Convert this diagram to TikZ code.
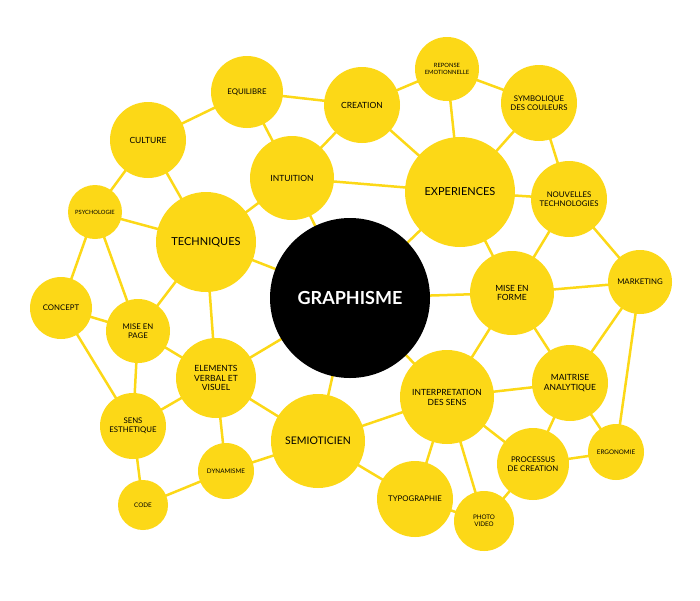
\documentclass[tikz,border=0pt]{standalone}
\usepackage{fontspec}
\setmainfont{Lato}
\usetikzlibrary{backgrounds}
\definecolor{yel}{HTML}{FCD817}
\begin{document}
\begin{tikzpicture}[x=1pt,y=-1pt,
  b/.style={circle,fill=yel,minimum size=#1*2pt,inner sep=0pt,align=center,font=\fontsize{7.8}{8.8}\selectfont},
  link/.style={yel,line width=2.5pt}]
\useasboundingbox (0,0) rectangle (700,600);
\node[b=80,fill=black,text=white,font=\bfseries\fontsize{18}{19}\selectfont] (g) at (350,298) {GRAPHISME};
\node[b=50,font=\fontsize{11}{12}\selectfont] (tec) at (206,242) {TECHNIQUES};
\node[b=42,font=\fontsize{8.5}{9.5}\selectfont] (int) at (292,178) {INTUITION};
\node[b=36] (equ) at (247,92) {EQUILIBRE};
\node[b=38,font=\fontsize{8.5}{9.5}\selectfont] (cre) at (362,105) {CREATION};
\node[b=32,font=\fontsize{5.8}{6.3}\selectfont] (rep) at (447,69) {REPONSE\\EMOTIONNELLE};
\node[b=38] (sym) at (539,103) {SYMBOLIQUE\\DES COULEURS};
\node[b=55,font=\fontsize{11}{12}\selectfont] (exp) at (460,192) {EXPERIENCES};
\node[b=38] (nou) at (569,199) {NOUVELLES\\TECHNOLOGIES};
\node[b=32] (mar) at (640,282) {MARKETING};
\node[b=42,font=\fontsize{8.5}{9.5}\selectfont] (mef) at (512,293) {MISE EN\\FORME};
\node[b=38,font=\fontsize{8.5}{9.5}\selectfont] (mai) at (570,383) {MAITRISE\\ANALYTIQUE};
\node[b=28,font=\fontsize{6.3}{7}\selectfont] (erg) at (616,452) {ERGONOMIE};
\node[b=36] (pro) at (533,464) {PROCESSUS\\DE CREATION};
\node[b=47,font=\fontsize{8.5}{10}\selectfont] (itp) at (447,397) {INTERPRETATION\\DES SENS};
\node[b=30,font=\fontsize{6.3}{7}\selectfont] (pho) at (484,521) {PHOTO\\VIDEO};
\node[b=38] (typ) at (415,499) {TYPOGRAPHIE};
\node[b=47,font=\fontsize{10.5}{11}\selectfont] (sem) at (318,441) {SEMIOTICIEN};
\node[b=28,font=\fontsize{6.3}{7}\selectfont] (dyn) at (226,471) {DYNAMISME};
\node[b=25,font=\fontsize{6.3}{7}\selectfont] (cod) at (143,505) {CODE};
\node[b=33] (sen) at (133,426) {SENS\\ESTHETIQUE};
\node[b=40,font=\fontsize{8.5}{9.5}\selectfont] (ele) at (216,378) {ELEMENTS\\VERBAL ET\\VISUEL};
\node[b=32] (mep) at (138,331) {MISE EN\\PAGE};
\node[b=31] (con) at (61,308) {CONCEPT};
\node[b=27,font=\fontsize{5.8}{6.3}\selectfont] (psy) at (95,212) {PSYCHOLOGIE};
\node[b=38,font=\fontsize{8.5}{9.5}\selectfont] (cul) at (148,140) {CULTURE};
\begin{scope}[on background layer]
\foreach \a/\b in {cul/equ,cul/psy,cul/tec,equ/cre,equ/int,cre/rep,cre/exp,cre/int,rep/sym,rep/exp,
 sym/exp,sym/nou,int/exp,int/tec,int/g,exp/g,exp/mef,exp/nou,nou/mef,nou/mar,mar/mef,mar/mai,mar/erg,
 mef/g,mef/itp,mef/mai,mai/itp,mai/pro,mai/erg,pro/itp,pro/pho,pro/erg,itp/g,itp/sem,itp/typ,itp/pho,
 typ/sem,typ/pho,sem/g,sem/dyn,sem/ele,dyn/cod,dyn/ele,cod/sen,sen/mep,sen/con,sen/ele,ele/g,ele/tec,
 ele/mep,mep/con,mep/tec,mep/psy,con/psy,psy/tec,tec/g}
 \draw[link] (\a.center) -- (\b.center);
\end{scope}
\end{tikzpicture}
\end{document}
